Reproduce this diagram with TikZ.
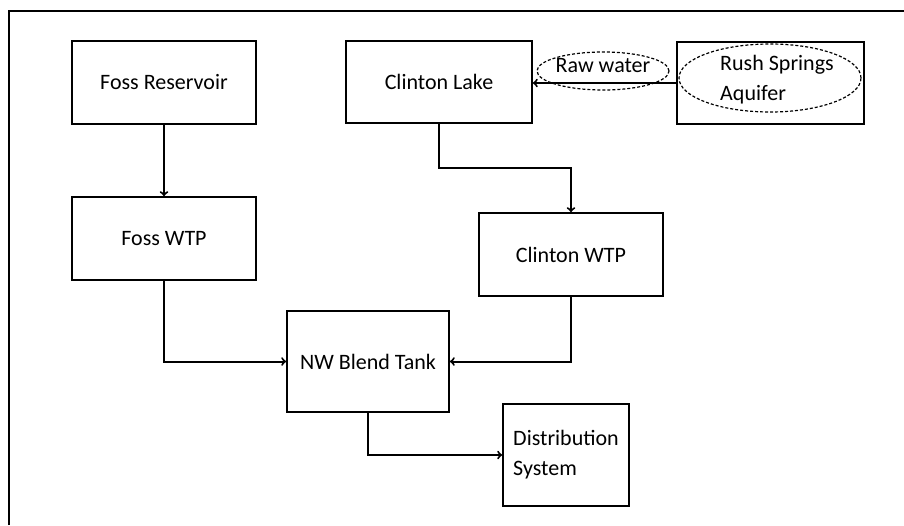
\documentclass[tikz,border=0pt]{standalone}
\usepackage{fontspec}
\setmainfont{Carlito}
\usepackage{tikz}
\usetikzlibrary{arrows}
\tikzset{l/.style={font=\fontsize{22}{30}\selectfont}}
\tikzset{b/.style={draw, line width=1.8pt, l, inner sep=0pt}}
\tikzset{flow/.style={draw, line width=2pt, ->}}
\tikzset{d/.style={dash pattern=on 3pt off 2pt, line width=1.2pt}}

\begin{document}
\begin{tikzpicture}[x=1pt, y=1pt]
    \useasboundingbox (0,0) rectangle (904,-525);
    \draw[line width=2.2pt] (9,-525) -- (9,-11) -- (904,-11);
    \node[b, minimum width=184, minimum height=83] (FR) at (164,-82.5) {Foss Reservoir};
    \node[b, minimum width=184, minimum height=83] (FW) at (164,-238.5) {Foss WTP};
    \node[b, minimum width=186, minimum height=82] (CL) at (439,-82) {Clinton Lake};
    \node[b, minimum width=187, minimum height=82] (RS) at (770.5,-83) {};
    \node[l, align=left] (RSA) at (777,-80) {Rush Springs\\Aquifer};
    \draw[d] (770,-78) ellipse (91 and 34);
    \node[l] (RW) at (603,-66) {Raw water};
    \draw[d] (603,-71) ellipse (66 and 19);
    \node[b, minimum width=184, minimum height=83] (CW) at (571,-254.5) {Clinton WTP};
    \node[b, minimum width=162, minimum height=101] (NW) at (368,-361.5) {NW Blend Tank};
    \node[b, minimum width=126, minimum height=102, align=left] (DS) at (566,-455) {Distribution\\System};
    \path[flow] (FR) -- (FW);
    \path[flow] (RS.west) -- (RS.west -| CL.east);
    \path[flow] (CL.south) -- ++(0,-44) -| (CW.north);
    \path[flow] (FW.south) |- (NW.west);
    \path[flow] (CW.south) |- (NW.east);
    \path[flow] (NW.south) |- (DS.west);
\end{tikzpicture}
\end{document}
